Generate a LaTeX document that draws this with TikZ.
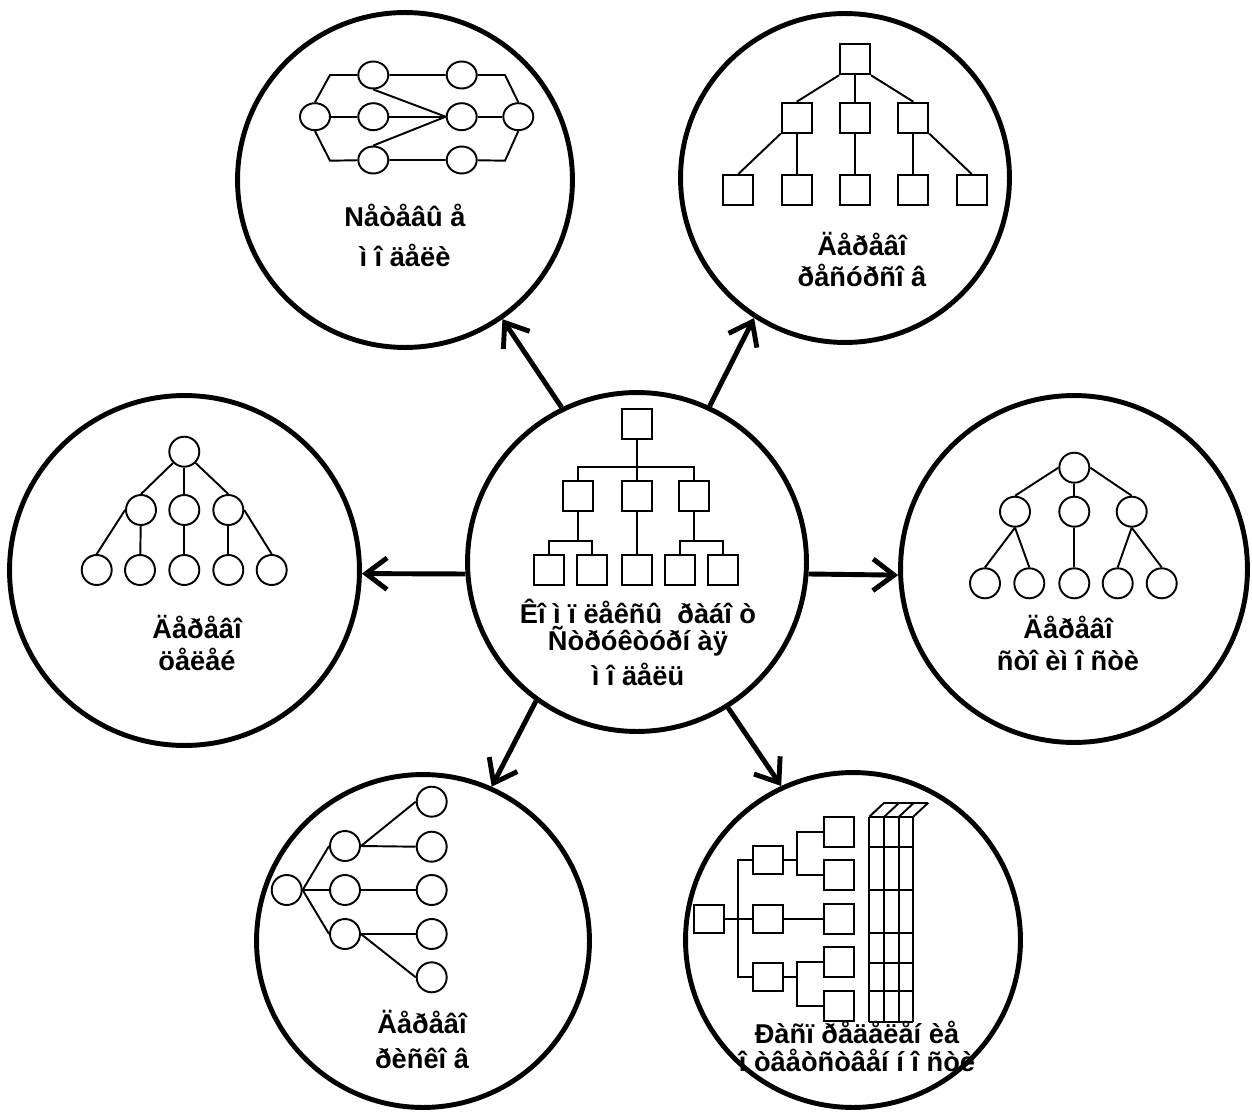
\documentclass[tikz,border=0pt]{standalone}
\usepackage{fontspec}
\setmainfont{Liberation Sans}
\usetikzlibrary{
	arrows.meta,
	shapes.geometric
}
\tikzset{
  % arrow
	cstwra/.style     ={-{Straight Barb[length=12pt,width=18pt]}, line width=2.8pt},
  % line
	cstline/.style    ={line width=1.1pt},
  % node
	cstbig/.style     ={circle, draw, line width=2.8pt, inner sep=0pt},
	cstcirc/.style    ={ellipse, draw, line width=1.1pt, inner sep=0pt, minimum width=0.6cm, minimum height=0.6cm},
	cstbox/.style     ={rectangle, draw, line width=1.1pt, inner sep=0pt, minimum size=0.6cm},
	csttext/.style    ={font=\bfseries\fontsize{15.5}{#1}\selectfont, align=center, anchor=base} % base = last line
}

\begin{document}
\begin{tikzpicture}[x=0.02cm, y=-0.02cm]
	\useasboundingbox (0,0) rectangle (1252,1115);
	% big circles
	\node[cstbig, minimum size=6.78cm] (core) at (637,562) {};
	\node[cstbig, minimum size=6.70cm] (nets) at (405,180) {};
	\node[cstbig, minimum size=6.58cm] (res) at (845,178) {};
	\node[cstbig, minimum size=7.00cm] (goals) at (184.5,570.5) {};
	\node[cstbig, minimum size=6.94cm] (cost) at (1074,569) {};
	\node[cstbig, minimum size=6.66cm] (risk) at (423,941) {};
	\node[cstbig, minimum size=6.70cm] (resp) at (853,940) {};
	% arrows
	\draw[cstwra] (core.116) -- (nets.-55);
	\draw[cstwra] (core.65) -- (res.-123);
	\draw[cstwra] (core.184) -- (goals.-1.5);
	\draw[cstwra] (core.-4) -- (cost.182);
	\draw[cstwra] (core.-126.5) -- (risk.66.5);
	\draw[cstwra] (core.-58) -- (resp.115);
	% network
	\node[cstcirc, minimum height=0.54cm] (nL) at (315,116.7) {};
	\node[cstcirc, minimum height=0.54cm] (nR) at (518.3,116.7) {};
	\foreach \y [count=\i] in {75,116.7,160} {
		\node[cstcirc, minimum height=0.54cm] (nA\i) at (373.3,\y) {};
		\node[cstcirc, minimum height=0.54cm] (nB\i) at (461.7,\y) {};
	}
	\draw[cstline] (nL.north) -- (330,75) -- (nA1) -- (nB1) -- (505,75) -- (nR.north);
	\draw[cstline] (nL.south) -- (330,160.7) -- (nA3) -- (nB3) -- (505,160.7) -- (nR.south);
	\draw[cstline] (nL) -- (nA2) -- (nB2) -- (nR);
	\draw[cstline] (nA1.south) -- (nB2.west);
	\draw[cstline] (nA3.north) -- (nB2.west);
	% resources
	\node[cstbox] (r0) at (855,59.3) {};
	\foreach \x [count=\i] in {796.7,855,913.3} \node[cstbox] (r\i) at (\x,117.7) {};
	\foreach \x [count=\i from 4] in {738.3,796.7,855,913.3,971.7} \node[cstbox] (r\i) at (\x,190) {};
	\draw[cstline] (r0.south west) -- (r1.north);
	\draw[cstline] (r0.south) -- (r2.north);
	\draw[cstline] (r0.south east) -- (r3.north);
	\draw[cstline] (r1.south west) -- (r4.north);
	\draw[cstline] (r1.south) -- (r5.north);
	\draw[cstline] (r2.south) -- (r6.north);
	\draw[cstline] (r3.south) -- (r7.north);
	\draw[cstline] (r3.south east) -- (r8.north);
	% structure
	\node[cstbox] (c0) at (636.7,424) {};
	\foreach \x [count=\i] in {577.7,636.7,694.3} \node[cstbox] (c\i) at (\x,496) {};
	\foreach \x [count=\i from 4] in {549,592.3,636.7,680,723.3} \node[cstbox] (c\i) at (\x,570) {};
	\coordinate (cb0) at (636.7,466.7);
	\coordinate (cb1) at (577.7,541);
	\coordinate (cb3) at (694.3,541);
	\draw[cstline] (c0) -- (c2);
	\draw[cstline] (c1.north) |- (cb0) -| (c3.north);
	\draw[cstline] (c1) -- (cb1);
	\draw[cstline] (c4.north) |- (cb1) -| (c5.north);
	\draw[cstline] (c2) -- (c6);
	\draw[cstline] (c3) -- (cb3);
	\draw[cstline] (c7.north) |- (cb3) -| (c8.north);
	% goals
	\node[cstcirc] (g0) at (184.3,451.7) {};
	\foreach \x [count=\i] in {141,184.3,228.3} \node[cstcirc] (g\i) at (\x,510) {};
	\foreach \x [count=\i from 4] in {96.7,140,184.3,228.3,271.7} \node[cstcirc] (g\i) at (\x,570) {};
	\draw[cstline] (g0.-135) -- (g1.north);
	\draw[cstline] (g0) -- (g2);
	\draw[cstline] (g0.-45) -- (g3.north);
	\draw[cstline] (g1.west) -- (g4.north);
	\draw[cstline] (g1) -- (g5);
	\draw[cstline] (g2) -- (g6);
	\draw[cstline] (g3) -- (g7);
	\draw[cstline] (g3.east) -- (g8.north);
	% cost
	\node[cstcirc] (k0) at (1074.3,467.7) {};
	\foreach \x [count=\i] in {1015,1074.3,1131.7} \node[cstcirc] (k\i) at (\x,511.7) {};
	\foreach \x [count=\i from 4] in {985,1029.3,1074.3,1117.7,1161.7} \node[cstcirc] (k\i) at (\x,583.3) {};
	\draw[cstline] (k0.west) -- (k1.north);
	\draw[cstline] (k0) -- (k2);
	\draw[cstline] (k0.east) -- (k3.north);
	\draw[cstline] (k1.south) -- (k4.north);
	\draw[cstline] (k1.south) -- (k5.north);
	\draw[cstline] (k2) -- (k6);
	\draw[cstline] (k3.south) -- (k7.north);
	\draw[cstline] (k3.south) -- (k8.north);
	% risks
	\node[cstcirc] (q0) at (286.7,890) {};
	\foreach \y [count=\i] in {846,890,934} \node[cstcirc] (q\i) at (345,\y) {};
	\foreach \y [count=\i from 4] in {801.7,846.7,890,934,977.3} \node[cstcirc] (q\i) at (431.7,\y) {};
	\draw[cstline] (q0.east) -- (q1.west);
	\draw[cstline] (q0.east) -- (q2.west);
	\draw[cstline] (q0.east) -- (q3.west);
	\draw[cstline] (q1.east) -- (q4.west);
	\draw[cstline] (q1.east) -- (q5.west);
	\draw[cstline] (q2) -- (q6);
	\draw[cstline] (q3.east) -- (q7.west);
	\draw[cstline] (q3.east) -- (q8.west);
	% responsibility
	\node[cstbox, minimum height=0.56cm] (p0) at (709.3,919.3) {};
	\foreach \y [count=\i] in {860,919.3,977.3} \node[cstbox, minimum height=0.56cm] (p\i) at (767.7,\y) {};
	\foreach \y [count=\i from 4] in {832,875,919.3,962.3,1006.3} \node[cstbox] (p\i) at (839.3,\y) {};
	\coordinate (pb0) at (738.3,919.3);
	\coordinate (pb1) at (796.7,860);
	\coordinate (pb3) at (796.7,977.3);
	\draw[cstline] (p0) -- (p2);
	\draw[cstline] (p1.west) -| (pb0) |- (p3.west);
	\draw[cstline] (p1) -- (pb1);
	\draw[cstline] (p4.west) -| (pb1) |- (p5.west);
	\draw[cstline] (p2) -- (p6);
	\draw[cstline] (p3) -- (pb3);
	\draw[cstline] (p7.west) -| (pb3) |- (p8.west);
	\foreach \x in {869.3,884.3,899,913.3} {
		\draw[cstline] (\x,816.7) -- (\x,1021.7);
		\draw[cstline] (\x,816.7) -- ++(15,-14);
	}
	\foreach \y in {816.7,846.7,890,933.3,962.7,991,1021.7} \draw[cstline] (869.3,\y) -- (913.3,\y);
	\draw[cstline] (884.3,802.7) -- (928.3,802.7);
	% labels
	\node[csttext=22.8pt] (tnets) at (405,266.7) {Nåòåâû å\\ì î äåëè};
	\node[csttext=18pt] (tres) at (862,286.7) {Äåðåâî\\ðåñóðñî â};
	\node[csttext=15.2pt] (tcore) at (638,685) {Êî ì ï ëåêñû~~ðàáî ò\\Ñòðóêòóðí àÿ\\[2.8pt]ì î äåëü};
	\node[csttext=18.2pt] (tgoals) at (197,670) {Äåðåâî\\öåëåé};
	\node[csttext=18.2pt] (tcost) at (1068,670) {Äåðåâî\\ñòî èì î ñòè};
	\node[csttext=20pt] (trisk) at (422,1068.3) {Äåðåâî\\ðèñêî â};
	\node[csttext=16.1pt] (tresp) at (857,1071.7) {Ðàñï ðåäåëåí èå\\î òâåòñòâåí í î ñòè};
\end{tikzpicture}
\end{document}
